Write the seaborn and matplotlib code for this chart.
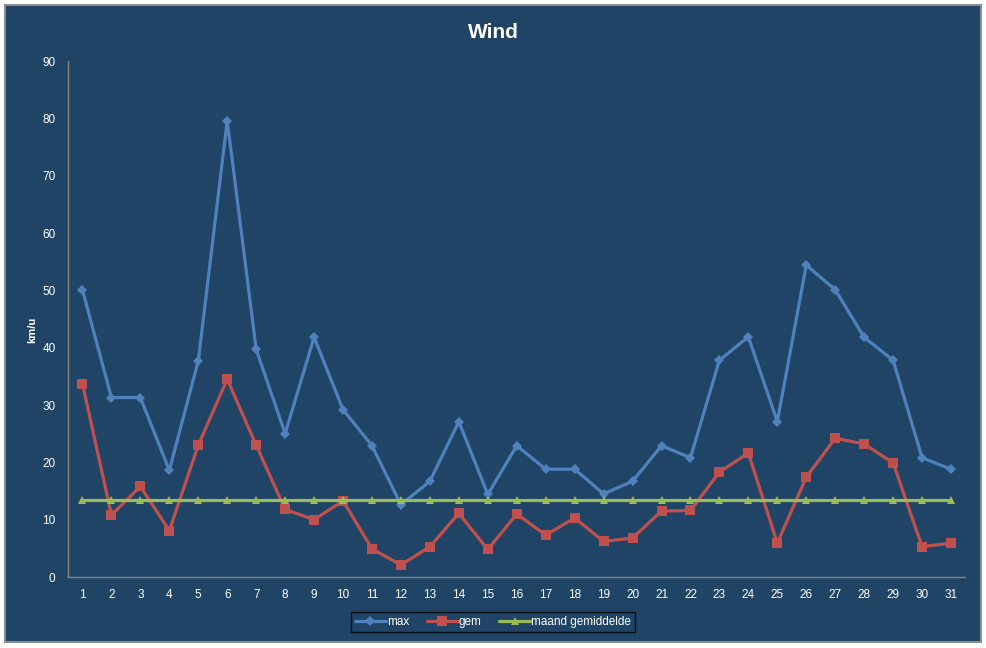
import numpy as np
import pandas as pd
import matplotlib
matplotlib.use("Agg")
import matplotlib.pyplot as plt
import seaborn as sns

# dagen van de maand
dagen = list(range(1, 32))

# windsnelheden in km/u
wind_max = [50.1, 31.3, 31.3, 18.6, 37.7, 79.6, 39.7, 25.0, 41.8, 29.2,
            22.9, 12.6, 16.7, 27.1, 14.4, 22.9, 18.8, 18.8, 14.5, 16.7,
            22.9, 20.8, 37.8, 41.9, 27.1, 54.4, 50.1, 41.8, 37.8, 20.8, 18.8]
wind_gem = [33.7, 10.8, 15.8, 8.1, 23.0, 34.5, 23.0, 11.8, 10.0, 13.3,
            4.9, 2.1, 5.3, 11.1, 4.8, 11.0, 7.3, 10.3, 6.2, 6.8,
            11.5, 11.6, 18.3, 21.6, 5.9, 17.4, 24.2, 23.2, 19.9, 5.3, 5.9]
maand_gem = [13.4] * len(dagen)

reeksen = ["max", "gem", "maand gemiddelde"]
kleuren = ["#4F81BD", "#C0504D", "#9BBB59"]
markers = ["D", "s", "^"]
groottes = [5, 7, 6]

df = pd.DataFrame({"dag": dagen, "max": wind_max, "gem": wind_gem,
                   "maand gemiddelde": maand_gem})
lang = df.melt(id_vars="dag", var_name="reeks", value_name="kmu")

bg = "#1F4466"
sns.set_style("dark")
plt.rcParams["font.family"] = ["Liberation Sans", "DejaVu Sans"]

W, H = 987, 648
fig = plt.figure(figsize=(W / 100, H / 100), dpi=100, facecolor="white")

# kaartvlak met grijze rand
fig.patches.append(plt.Rectangle((5 / W, 1 - 642 / H), 976 / W, 637 / H,
                                 transform=fig.transFigure, facecolor=bg,
                                 edgecolor="#8C8C8C", linewidth=1.5, zorder=-10))

ax = fig.add_axes([68 / W, 1 - 577 / H, (965.5 - 68) / W, (577 - 61) / H])
ax.set_facecolor(bg)
ax.patch.set_alpha(0)

for naam, kleur, m, ms in zip(reeksen, kleuren, markers, groottes):
    sns.lineplot(data=lang[lang["reeks"] == naam], x="dag", y="kmu", ax=ax,
                 color=kleur, marker=m, markersize=ms, markeredgewidth=0,
                 linewidth=2.3, label=naam)

ax.set_xlim(0.5, 31.5)
ax.set_ylim(0, 90)
ax.set_yticks(np.arange(0, 91, 10))
ax.set_xticks(dagen)
ax.set_xticks(np.arange(0.5, 32, 1), minor=True)
ax.tick_params(axis="x", which="major", length=0, pad=9, colors="white", labelsize=8.5)
ax.tick_params(axis="x", which="minor", length=5, color="#868686", direction="out")
ax.tick_params(axis="y", length=5, direction="out", colors="white",
               labelsize=8.5, pad=4)
ax.tick_params(axis="y", which="major", color="#868686")
ax.grid(False)
for s in ["top", "right"]:
    ax.spines[s].set_visible(False)
for s in ["left", "bottom"]:
    ax.spines[s].set_color("#868686")
    ax.spines[s].set_linewidth(1)

ax.set_xlabel("")
ax.set_ylabel("")
fig.text(32 / W, 1 - 330 / H, "km/u", color="white", fontsize=8, fontweight="bold",
         rotation=90, ha="center", va="center")
fig.suptitle("Wind", color="white", fontsize=15, fontweight="bold", y=1 - 32 / H,
             va="center")

leg = ax.legend(loc="center", bbox_to_anchor=(493 / W, 1 - 622 / H),
                bbox_transform=fig.transFigure, ncol=3, frameon=True, fontsize=8.5,
                facecolor=bg, edgecolor="black", fancybox=False, handlelength=2.6,
                columnspacing=1.5, handletextpad=0.1, borderpad=0.35,
                borderaxespad=0)
leg.get_frame().set_linewidth(1)
for t in leg.get_texts():
    t.set_color("white")

fig.savefig("out.png", dpi=100, facecolor="white")
